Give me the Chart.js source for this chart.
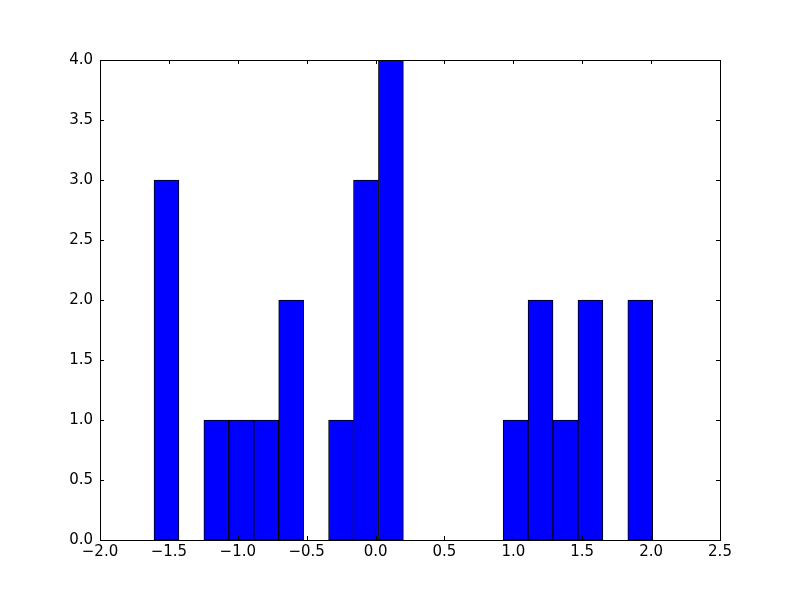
<!DOCTYPE html>
<html>
<head>
<meta charset="utf-8">
<script src="https://cdn.jsdelivr.net/npm/chart.js@4/dist/chart.umd.min.js"></script>
<style>
  html, body { margin: 0; padding: 0; background: #fff; }
  #wrap { width: 800px; height: 600px; }
</style>
</head>
<body>
<div id="wrap"><canvas id="c" width="800" height="600"></canvas></div>
<script>
// histogram bins
const binEdges = [-1.608, -1.427, -1.246, -1.065, -0.884, -0.703, -0.522, -0.341, -0.160, 0.021,
                  0.202, 0.383, 0.564, 0.745, 0.926, 1.107, 1.288, 1.469, 1.650, 1.831, 2.012];
const counts = [3, 0, 1, 1, 1, 2, 0, 1, 3, 4, 0, 0, 0, 0, 1, 2, 1, 2, 0, 2];
const xTicks = [-2.0, -1.5, -1.0, -0.5, 0.0, 0.5, 1.0, 1.5, 2.0, 2.5];
const yTicks = [0.0, 0.5, 1.0, 1.5, 2.0, 2.5, 3.0, 3.5, 4.0];

const points = counts.map((c, i) => ({ x: (binEdges[i] + binEdges[i + 1]) / 2, y: c }));

const fmt = v => v.toFixed(1).replace('-', '\u2212');

// matplotlib classic: frame + inward ticks on all four sides
const frameTicks = {
  id: 'frameTicks',
  afterDraw(chart) {
    const { ctx, chartArea: a, scales } = chart;
    ctx.save();
    ctx.strokeStyle = '#000';
    ctx.lineWidth = 1;
    ctx.beginPath();
    xTicks.forEach(t => {
      const px = Math.round(scales.x.getPixelForValue(t)) + 0.5;
      ctx.moveTo(px, a.bottom); ctx.lineTo(px, a.bottom - 4);
      ctx.moveTo(px, a.top); ctx.lineTo(px, a.top + 4);
    });
    yTicks.forEach(t => {
      const py = Math.round(scales.y.getPixelForValue(t)) + 0.5;
      ctx.moveTo(a.left, py); ctx.lineTo(a.left + 4, py);
      ctx.moveTo(a.right, py); ctx.lineTo(a.right - 4, py);
    });
    ctx.stroke();
    ctx.strokeRect(Math.round(a.left) + 0.5, Math.round(a.top) + 0.5,
                   Math.round(a.right - a.left), Math.round(a.bottom - a.top));
    ctx.restore();
  }
};

new Chart(document.getElementById('c'), {
  type: 'bar',
  data: {
    datasets: [{
      data: points,
      backgroundColor: '#0000ff',
      borderColor: '#000000',
      borderWidth: 1,
      borderSkipped: false,
      barPercentage: 1,
      categoryPercentage: 1,
      grouped: false
    }]
  },
  options: {
    responsive: false,
    devicePixelRatio: 1,
    animation: false,
    layout: { padding: { top: 60, right: 80, left: 0, bottom: 0 } },
    plugins: { legend: { display: false }, tooltip: { enabled: false } },
    scales: {
      x: {
        type: 'linear',
        offset: false,
        min: -2.0,
        max: 2.5,
        afterBuildTicks: s => { s.ticks = xTicks.map(v => ({ value: v })); },
        afterFit: s => { s.height = 60; },
        grid: { display: false, drawTicks: false, offset: false },
        border: { display: false },
        ticks: {
          padding: 3,
          color: '#000',
          font: { family: 'DejaVu Sans', size: 15 },
          maxRotation: 0,
          callback: v => fmt(v)
        }
      },
      y: {
        min: 0,
        max: 4,
        afterBuildTicks: s => { s.ticks = yTicks.map(v => ({ value: v })); },
        afterFit: s => { s.width = 100; },
        grid: { display: false, drawTicks: false },
        border: { display: false },
        ticks: {
          padding: 7,
          color: '#000',
          font: { family: 'DejaVu Sans', size: 15 },
          callback: v => fmt(v)
        }
      }
    }
  },
  plugins: [frameTicks]
});
</script>
</body>
</html>
